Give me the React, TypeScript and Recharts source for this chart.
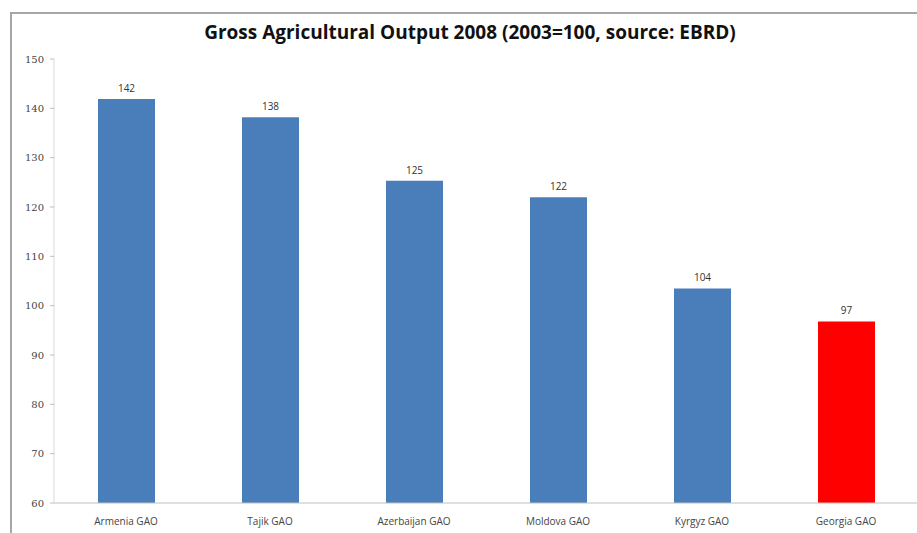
import React from 'react';
import { BarChart, Bar, XAxis, YAxis, Cell, LabelList } from 'recharts';

const categories = ['Armenia GAO', 'Tajik GAO', 'Azerbaijan GAO', 'Moldova GAO', 'Kyrgyz GAO', 'Georgia GAO'];
const values = [141.9, 138.2, 125.3, 122.0, 103.5, 96.8];
const barColors = ['#4a7ebb', '#4a7ebb', '#4a7ebb', '#4a7ebb', '#4a7ebb', '#ff0000'];
const yTicks = [60, 70, 80, 90, 100, 110, 120, 130, 140, 150];
const title = 'Gross Agricultural Output 2008 (2003=100, source: EBRD)';

const data = categories.map((name, i) => ({ name, value: values[i] }));

export default function App() {
  return (
    <div style={{ position: 'absolute', left: 0, top: 0, width: 917, height: 533, overflow: 'hidden', background: '#fff' }}>
      <div style={{ position: 'absolute', left: 10, top: 12, width: 930, height: 540, borderLeft: '2px solid #a6a6a6', borderTop: '2px solid #a6a6a6' }} />
      <div style={{ position: 'absolute', left: 0, top: 19, width: 940, textAlign: 'center', fontFamily: 'Open Sans, sans-serif', fontWeight: 700, fontSize: 19, color: '#111' }}>
        {title}
      </div>
      <div style={{ position: 'absolute', left: 0, top: 0 }}>
        <BarChart width={918} height={533} data={data} margin={{ top: 59, right: 0, bottom: 0, left: 0 }}>
          <XAxis dataKey="name" height={30} tickLine={false} axisLine={{ stroke: '#bfbfbf' }} interval={0}
            tick={{ fontSize: 10, fill: '#444', fontFamily: 'Open Sans, sans-serif' }} tickMargin={9} />
          <YAxis width={54} domain={[60, 150]} ticks={yTicks} allowDataOverflow axisLine={{ stroke: '#d9d9d9' }}
            tickLine={{ stroke: '#bfbfbf' }} tickSize={4}
            tick={{ fontSize: 10, fill: '#444', fontFamily: 'DejaVu Serif, serif' }} tickMargin={6} />
          <Bar dataKey="value" barSize={57} isAnimationActive={false}>
            {data.map((d, i) => (
              <Cell key={d.name} fill={barColors[i]} />
            ))}
            <LabelList dataKey="value" position="top" offset={7} formatter={(v: number) => Math.round(v)}
              style={{ fontSize: 10, fill: '#333', fontFamily: 'Open Sans, sans-serif' }} />
          </Bar>
        </BarChart>
      </div>
    </div>
  );
}
